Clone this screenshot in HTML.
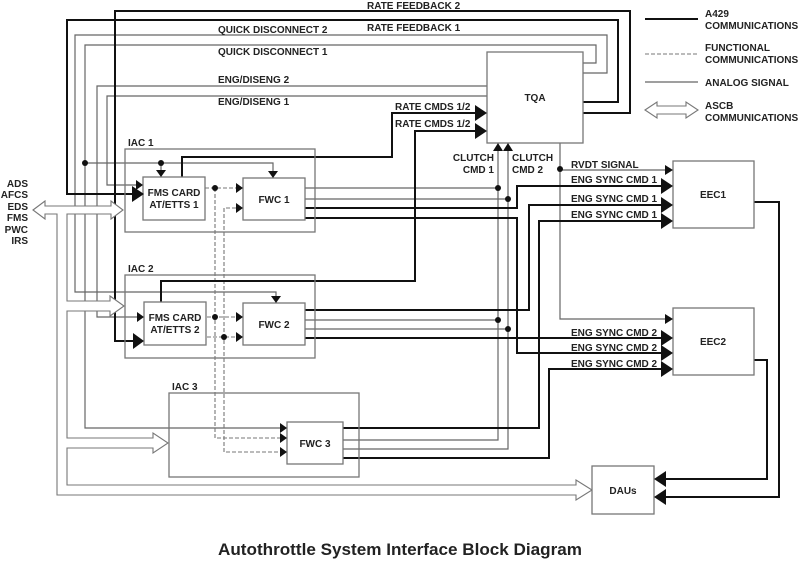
<!DOCTYPE html>
<html><head><meta charset="utf-8"><style>
html,body{margin:0;padding:0;background:#fff;}
svg{display:block;}
text{font-family:"Liberation Sans",Arial,sans-serif;font-weight:bold;fill:#222;}
</style></head><body>
<svg width="801" height="564" viewBox="0 0 801 564" xmlns="http://www.w3.org/2000/svg">
<g fill="none" stroke-linejoin="miter">
<g stroke="#666" stroke-width="1.2">
<path d="M583,73 H607 V35 H75 V292 H276 V296"/>
<path d="M583,63 H596 V45 H85 V428 H281"/>
<path d="M85,163 H273 V171"/>
<path d="M161,163 V170"/>
<path d="M487,86 H97 V317 H137"/>
<path d="M487,96 H107 V185 H136"/>
<path d="M305,188 H498"/><path d="M305,199 H508"/>
<path d="M305,320 H498"/><path d="M305,329 H508"/>
<path d="M343,440 H498 V151"/><path d="M343,449 H508 V151"/>
<path d="M560,143 V319 H665"/>
<path d="M560,170 H665"/>
<path d="M645,82 H698"/>
</g>
<g stroke="#777" stroke-width="1.1" stroke-dasharray="4,2">
<path d="M205,188 H236"/>
<path d="M215,188 V438 H281"/>
<path d="M226,208 H236"/>
<path d="M224,208 V452 H281"/>
<path d="M207,317 H236"/>
<path d="M207,337 H236"/>
<path d="M645,54 H698"/>
</g>
<g stroke="#111" stroke-width="2">
<path d="M583,113 H630 V11 H115 V341 H134"/>
<path d="M583,102 H618 V20 H67 V194 H132"/>
<path d="M182,177 V157 H392 V113 H476"/>
<path d="M161,302 V281 H415 V131 H476"/>
<path d="M305,208 H517 V186 H662"/>
<path d="M305,218 H517 V353 H662"/>
<path d="M305,310 H529 V205 H662"/>
<path d="M305,338 H662"/>
<path d="M343,428 H539 V221 H662"/>
<path d="M343,458 H549 V369 H662"/>
<path d="M754,202 H779 V497 H665"/>
<path d="M754,360 H767 V479 H665"/>
<path d="M645,19 H698"/>
</g>
<polygon stroke="#777" stroke-width="1.1" fill="#fff" points="33,210 45,201 45,206 111,206 111,201 123,210 111,219 111,214 67,214 67,301 110,301 110,296 124,306 110,316 110,311 67,311 67,438 153,438 153,433 168,443 153,453 153,448 67,448 67,485 576,485 576,480 592,490 576,500 576,495 57,495 57,214 45,214 45,219"/>
<polygon stroke="#777" stroke-width="1.1" fill="#fff" points="645,110 657,102 657,106 686,106 686,102 698,110 686,118 686,114 657,114 657,118"/>
<g stroke="#777" stroke-width="1.3" fill="none">
<rect x="125" y="149" width="190" height="83"/>
<rect x="125" y="275" width="190" height="83"/>
<rect x="169" y="393" width="190" height="84"/>
</g>
<g stroke="#777" stroke-width="1.3" fill="#fff">
<rect x="143" y="177" width="62" height="43"/>
<rect x="243" y="178" width="62" height="42"/>
<rect x="144" y="302" width="62" height="43"/>
<rect x="243" y="303" width="62" height="42"/>
<rect x="287" y="422" width="56" height="42"/>
<rect x="487" y="52" width="96" height="91"/>
<rect x="673" y="161" width="81" height="67"/>
<rect x="673" y="308" width="81" height="67"/>
<rect x="592" y="466" width="62" height="48"/>
</g>
</g>
<g fill="#111" stroke="none">
<polygon points="132,186 144,194 132,202"/>
<polygon points="133,333 144,341 133,349"/>
<polygon points="475,105 487,113 475,121"/>
<polygon points="475,123 487,131 475,139"/>
<polygon points="661,178 673,186 661,194"/>
<polygon points="661,197 673,205 661,213"/>
<polygon points="661,213 673,221 661,229"/>
<polygon points="661,330 673,338 661,346"/>
<polygon points="661,345 673,353 661,361"/>
<polygon points="661,361 673,369 661,377"/>
<polygon points="666,489 654,497 666,505"/>
<polygon points="666,471 654,479 666,487"/>
<polygon points="136,180 143,185 136,190"/>
<polygon points="137,312 144,317 137,322"/>
<polygon points="268,171 273,178 278,171"/>
<polygon points="156,170 161,177 166,170"/>
<polygon points="271,296 276,303 281,296"/>
<polygon points="236,183 243,188 236,193"/>
<polygon points="236,203 243,208 236,213"/>
<polygon points="236,312 243,317 236,322"/>
<polygon points="236,332 243,337 236,342"/>
<polygon points="280,423 287,428 280,433"/>
<polygon points="280,433 287,438 280,443"/>
<polygon points="280,447 287,452 280,457"/>
<polygon points="493,151 498,143 503,151"/>
<polygon points="503,151 508,143 513,151"/>
<polygon points="665,165 673,170 665,175"/>
<polygon points="665,314 673,319 665,324"/>
<circle cx="85" cy="163" r="3"/><circle cx="161" cy="163" r="3"/>
<circle cx="215" cy="188" r="3"/><circle cx="215" cy="317" r="3"/>
<circle cx="224" cy="337" r="3"/>
<circle cx="498" cy="188" r="3"/><circle cx="508" cy="199" r="3"/>
<circle cx="498" cy="320" r="3"/><circle cx="508" cy="329" r="3"/>
<circle cx="560" cy="169" r="3"/>
</g>
<g font-size="10">
<text x="367" y="9">RATE FEEDBACK 2</text>
<text x="367" y="31">RATE FEEDBACK 1</text>
<text x="218" y="33">QUICK DISCONNECT 2</text>
<text x="218" y="55">QUICK DISCONNECT 1</text>
<text x="218" y="83">ENG/DISENG 2</text>
<text x="218" y="105">ENG/DISENG 1</text>
<text x="395" y="110">RATE CMDS 1/2</text>
<text x="395" y="127">RATE CMDS 1/2</text>
<text x="494" y="161" text-anchor="end">CLUTCH</text>
<text x="494" y="173" text-anchor="end">CMD 1</text>
<text x="512" y="161">CLUTCH</text>
<text x="512" y="173">CMD 2</text>
<text x="571" y="168">RVDT SIGNAL</text>
<text x="571" y="183">ENG SYNC CMD 1</text>
<text x="571" y="202">ENG SYNC CMD 1</text>
<text x="571" y="218">ENG SYNC CMD 1</text>
<text x="571" y="336">ENG SYNC CMD 2</text>
<text x="571" y="351">ENG SYNC CMD 2</text>
<text x="571" y="367">ENG SYNC CMD 2</text>
<text x="128" y="146">IAC 1</text>
<text x="128" y="272">IAC 2</text>
<text x="172" y="390">IAC 3</text>
<text x="28" y="187" text-anchor="end">ADS</text>
<text x="28" y="198" text-anchor="end">AFCS</text>
<text x="28" y="210" text-anchor="end">EDS</text>
<text x="28" y="221" text-anchor="end">FMS</text>
<text x="28" y="233" text-anchor="end">PWC</text>
<text x="28" y="244" text-anchor="end">IRS</text>
<text x="174" y="196" text-anchor="middle">FMS CARD</text>
<text x="174" y="208" text-anchor="middle">AT/ETTS 1</text>
<text x="175" y="321" text-anchor="middle">FMS CARD</text>
<text x="175" y="333" text-anchor="middle">AT/ETTS 2</text>
<text x="274" y="203" text-anchor="middle">FWC 1</text>
<text x="274" y="328" text-anchor="middle">FWC 2</text>
<text x="315" y="447" text-anchor="middle">FWC 3</text>
<text x="535" y="101" text-anchor="middle">TQA</text>
<text x="713" y="198" text-anchor="middle">EEC1</text>
<text x="713" y="345" text-anchor="middle">EEC2</text>
<text x="623" y="494" text-anchor="middle">DAUs</text>
<text x="705" y="17">A429</text>
<text x="705" y="29">COMMUNICATIONS</text>
<text x="705" y="51">FUNCTIONAL</text>
<text x="705" y="63">COMMUNICATIONS</text>
<text x="705" y="86">ANALOG SIGNAL</text>
<text x="705" y="109">ASCB</text>
<text x="705" y="121">COMMUNICATIONS</text>
</g>
<text x="400" y="555" font-size="17" text-anchor="middle" textLength="364" lengthAdjust="spacingAndGlyphs" fill="#111">Autothrottle System Interface Block Diagram</text>
</svg>
</body></html>
